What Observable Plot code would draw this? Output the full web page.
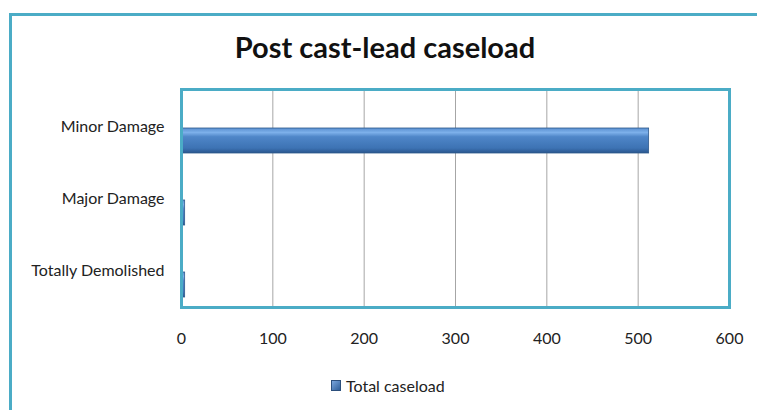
<!DOCTYPE html>
<html>
<head>
<meta charset="utf-8">
<script src="https://cdn.jsdelivr.net/npm/d3@7"></script>
<script src="https://cdn.jsdelivr.net/npm/@observablehq/plot@0.6"></script>
<style>
  html, body { margin: 0; padding: 0; background: #fff; }
  #wrap { position: relative; width: 757px; height: 410px; overflow: hidden; font-family: Lato, "Open Sans", sans-serif; }
  #outer { position: absolute; left: 9px; top: 13px; width: 800px; height: 450px; border-left: 3px solid #4bacc6; border-top: 3px solid #4bacc6; box-sizing: border-box; }
  #title { position: absolute; left: 0; width: 770px; top: 29px; text-align: center; font-size: 29px; font-weight: bold; color: #111; }
  #chart { position: absolute; left: 0; top: 0; }
  #legend { position: absolute; left: 331px; top: 376px; font-size: 16px; color: #222; display: flex; align-items: center; }
  #legend .sw { width: 8px; height: 9px; background: linear-gradient(135deg, #7aa6dd, #2f5f9a); border: 1px solid #2c4f7c; margin-right: 5px; }
</style>
</head>
<body>
<div id="wrap">
  <div id="outer"></div>
  <div id="chart"></div>
  <div id="title">Post cast-lead caseload</div>
  <div id="legend"><span class="sw"></span><span>Total caseload</span></div>
</div>
<script>
const categories = ["Minor Damage", "Major Damage", "Totally Demolished"];
const caseload = [512, 4, 4];
const xTicks = [0, 100, 200, 300, 400, 500, 600];
const gridTicks = [100, 200, 300, 400, 500];

const data = categories.map((c, i) => ({category: c, value: caseload[i]}));

const chart = Plot.plot({
  width: 757,
  height: 410,
  marginLeft: 181,
  marginRight: 28,
  marginTop: 89,
  marginBottom: 103,
  style: {fontFamily: "Lato, 'Open Sans', sans-serif", fontSize: "16px", color: "#222", background: "transparent"},
  x: {domain: [0, 600], ticks: xTicks, tickSize: 0, tickPadding: 25, label: null},
  y: {domain: categories, paddingInner: 0.655, paddingOuter: 0.3275, tickSize: 0, tickPadding: 17, label: null},
  marks: [
    Plot.ruleX(gridTicks, {stroke: "#a6a6a6", strokeWidth: 1}),
    Plot.barX(data, {y: "category", x: "value", fill: "url(#barGrad)", stroke: "#2f5a8c", strokeWidth: 0.8, dy: 14}),
    Plot.frame({stroke: "#4bacc6", strokeWidth: 3})
  ]
});

const svg = d3.select(chart);
const defs = svg.insert("defs", ":first-child");
const g = defs.append("linearGradient").attr("id", "barGrad").attr("x1", 0).attr("y1", 0).attr("x2", 0).attr("y2", 1);
g.append("stop").attr("offset", "0%").attr("stop-color", "#5a8fd0");
g.append("stop").attr("offset", "18%").attr("stop-color", "#7db0ea");
g.append("stop").attr("offset", "35%").attr("stop-color", "#4f86c8");
g.append("stop").attr("offset", "80%").attr("stop-color", "#3d73b4");
g.append("stop").attr("offset", "100%").attr("stop-color", "#2a568e");

document.getElementById("chart").appendChild(chart);
</script>
</body>
</html>
